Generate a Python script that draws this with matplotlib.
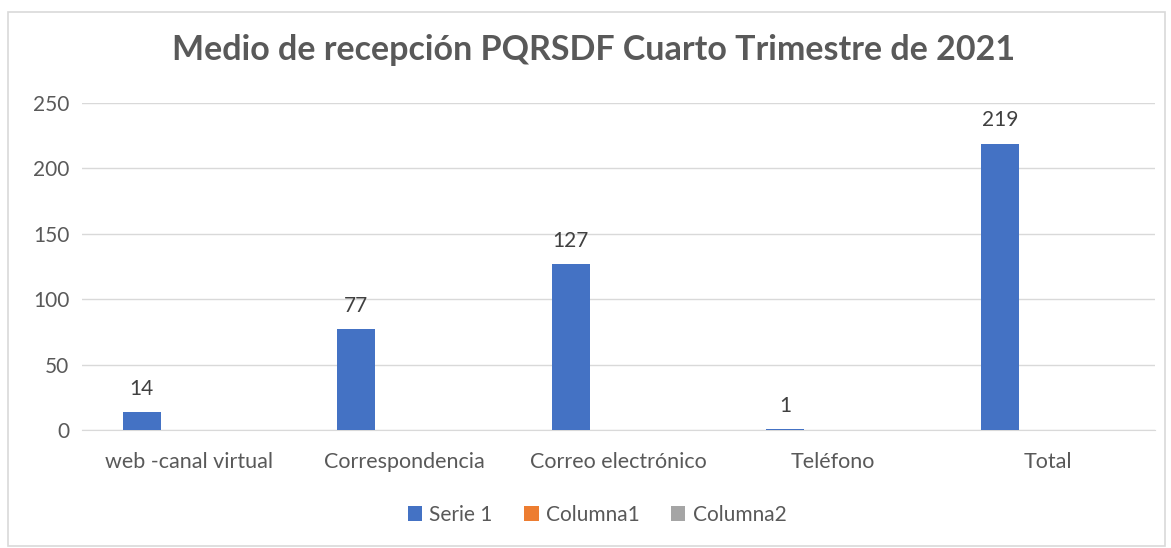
import matplotlib.pyplot as plt
import numpy as np
from matplotlib.patches import Rectangle

categories = ["web -canal virtual", "Correspondencia", "Correo electrónico", "Teléfono", "Total"]
serie1 = [14, 77, 127, 1, 219]
columna1 = [0, 0, 0, 0, 0]
columna2 = [0, 0, 0, 0, 0]
series_names = ["Serie 1", "Columna1", "Columna2"]
colors = ["#4472C4", "#ED7D31", "#A5A5A5"]
yticks = [0, 50, 100, 150, 200, 250]

plt.rcParams['font.family'] = ['Lato', 'DejaVu Sans']

fig = plt.figure(figsize=(11.71, 5.48), dpi=100)
fig.patch.set_facecolor("white")
# outer chart frame
fig.patches.append(Rectangle((8/1171, 2/548), 1157/1171, 534/548, transform=fig.transFigure,
                             fill=False, edgecolor="#d9d9d9", linewidth=1.2))

ax = fig.add_axes([82/1171, 1-430/548, (1155-82)/1171, (430-103)/548])
x = np.arange(len(categories))
w = 0.177
off = 0.222
for i, (vals, name, c) in enumerate(zip([serie1, columna1, columna2], series_names, colors)):
    bars = ax.bar(x + (i-1)*off, vals, width=w, color=c, label=name, zorder=3)
    if i == 0:
        for b, v in zip(bars, vals):
            ax.text(b.get_x()+b.get_width()/2, v + 10, str(v), ha="center", va="bottom",
                    fontsize=15, color="#404040")

ax.set_xlim(-0.5, len(categories)-0.5)
ax.set_ylim(0, 250)
ax.set_yticks(yticks)
ax.set_xticks(x)
ax.set_xticklabels(categories, fontsize=15.5)
ax.yaxis.grid(True, color="#d9d9d9", linewidth=1, zorder=0)
for s in ["top", "right", "left"]:
    ax.spines[s].set_visible(False)
ax.spines["bottom"].set_color("#d9d9d9")
ax.tick_params(axis="both", length=0, labelsize=15, labelcolor="#595959")
ax.tick_params(axis="x", pad=16, labelsize=15.5)
ax.tick_params(axis="y", pad=9)

fig.text(594/1171, 1-50/548, "Medio de recepción PQRSDF Cuarto Trimestre de 2021", ha="center", va="center",
         fontsize=24.5, fontweight="bold", color="#595959")

leg = fig.legend(loc="center", bbox_to_anchor=(597/1171, 1-515/548), ncol=3, frameon=False,
                 fontsize=15, handlelength=0.7, handleheight=0.7, handletextpad=0.35, columnspacing=1.5)
for t in leg.get_texts():
    t.set_color("#595959")

fig.savefig("out.png", dpi=100)
